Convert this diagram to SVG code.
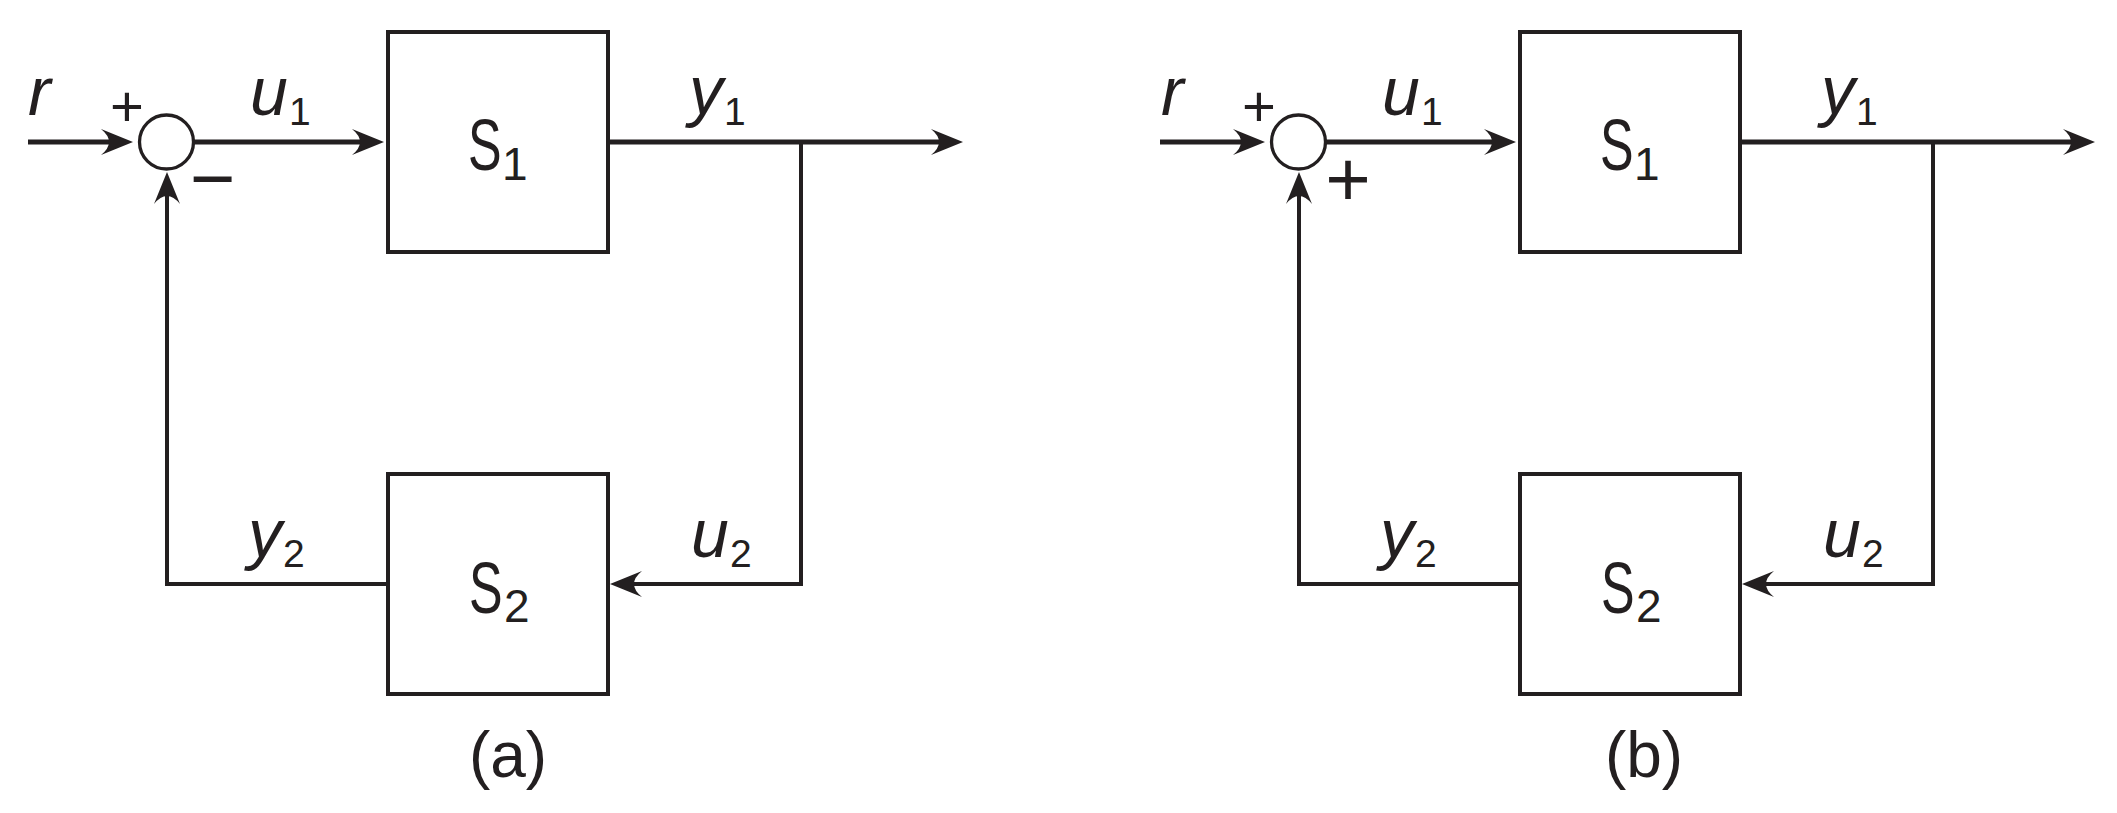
<svg xmlns="http://www.w3.org/2000/svg" width="2117" height="813" viewBox="0 0 2117 813">
<style>
.bg{fill:#ffffff}
.box{fill:none;stroke:#231f20;stroke-width:4}
.sum{fill:#ffffff;stroke:#231f20;stroke-width:3.3}
.fw{fill:none;stroke:#231f20;stroke-width:5}
.fb{fill:none;stroke:#231f20;stroke-width:4}
.t{font-family:"Liberation Sans",Arial,sans-serif;fill:#231f20}
.it{font-style:italic;font-size:68px}
.sub{font-size:39px}
.subS{font-size:46px}
.S{font-size:72px}
.sgn{font-size:58px}
.sgnL{font-size:78px}
.cap{font-size:64px}
</style>
<defs>
<marker id="ah" viewBox="0 0 32 26" refX="12" refY="13" markerWidth="32" markerHeight="26" markerUnits="userSpaceOnUse" orient="auto">
<path d="M32,13 L0,0 Q16,13 0,26 Z" fill="#231f20"/>
</marker>
</defs>
<rect class="bg" x="0" y="0" width="2117" height="813"/>

<g id="connectors">
<!-- panel a -->
<line class="fw" x1="28" y1="142" x2="113" y2="142" marker-end="url(#ah)"/>
<line class="fw" x1="193" y1="142" x2="364" y2="142" marker-end="url(#ah)"/>
<line class="fw" x1="608" y1="142" x2="943" y2="142" marker-end="url(#ah)"/>
<path class="fb" d="M801,142 V584 H630" marker-end="url(#ah)"/>
<path class="fb" d="M388,584 H167 V192" marker-end="url(#ah)"/>
<!-- panel b -->
<line class="fw" x1="1160" y1="142" x2="1245" y2="142" marker-end="url(#ah)"/>
<line class="fw" x1="1325" y1="142" x2="1496" y2="142" marker-end="url(#ah)"/>
<line class="fw" x1="1740" y1="142" x2="2075" y2="142" marker-end="url(#ah)"/>
<path class="fb" d="M1933,142 V584 H1762" marker-end="url(#ah)"/>
<path class="fb" d="M1520,584 H1299 V192" marker-end="url(#ah)"/>
</g>

<g id="sum-a">
<circle class="sum" cx="166.5" cy="142" r="27"/>
<text class="t sgn" x="127" y="126" text-anchor="middle">+</text>
<text class="t sgnL" x="212.5" y="204.5" text-anchor="middle">−</text>
</g>
<g id="S1-a">
<rect class="box" x="388" y="32" width="220" height="220"/>
<text class="t S" transform="translate(468,170) scale(0.7,1)">S</text>
<text class="t subS" x="502" y="180">1</text>
</g>
<g id="S2-a">
<rect class="box" x="388" y="474" width="220" height="220"/>
<text class="t S" transform="translate(469,613) scale(0.7,1)">S</text>
<text class="t subS" x="504" y="622">2</text>
</g>
<g id="labels-a">
<text class="t it" x="28" y="115">r</text>
<text class="t it" x="250" y="115">u</text>
<text class="t sub" x="289" y="125">1</text>
<text class="t it" x="689" y="114">y</text>
<text class="t sub" x="724" y="125">1</text>
<text class="t it" x="248" y="557">y</text>
<text class="t sub" x="283" y="567">2</text>
<text class="t it" x="691" y="557">u</text>
<text class="t sub" x="730" y="567">2</text>
<text class="t cap" x="508" y="777" text-anchor="middle">(a)</text>
</g>

<g id="sum-b">
<circle class="sum" cx="1298.5" cy="142" r="27"/>
<text class="t sgn" x="1259" y="126" text-anchor="middle">+</text>
<text class="t sgnL" x="1348" y="205.5" text-anchor="middle">+</text>
</g>
<g id="S1-b">
<rect class="box" x="1520" y="32" width="220" height="220"/>
<text class="t S" transform="translate(1600,170) scale(0.7,1)">S</text>
<text class="t subS" x="1634" y="180">1</text>
</g>
<g id="S2-b">
<rect class="box" x="1520" y="474" width="220" height="220"/>
<text class="t S" transform="translate(1601,613) scale(0.7,1)">S</text>
<text class="t subS" x="1636" y="622">2</text>
</g>
<g id="labels-b">
<text class="t it" x="1161" y="115">r</text>
<text class="t it" x="1382" y="115">u</text>
<text class="t sub" x="1421" y="125">1</text>
<text class="t it" x="1821" y="114">y</text>
<text class="t sub" x="1856" y="125">1</text>
<text class="t it" x="1380" y="557">y</text>
<text class="t sub" x="1415" y="567">2</text>
<text class="t it" x="1823" y="557">u</text>
<text class="t sub" x="1862" y="567">2</text>
<text class="t cap" x="1644" y="777" text-anchor="middle">(b)</text>
</g>
</svg>
